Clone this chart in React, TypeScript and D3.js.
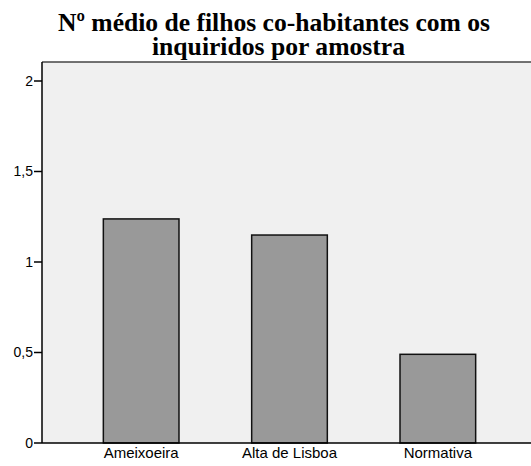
import React from "react";
import * as d3 from "d3";

const categories = ["Ameixoeira", "Alta de Lisboa", "Normativa"];
const values = [1.238, 1.149, 0.49];
const yTicks = [0, 0.5, 1, 1.5, 2];
const titleLines = ["Nº médio de filhos co-habitantes com os", "inquiridos por amostra"];

export default function App() {
  const W = 531, H = 466;
  const left = 42, right = 531, top = 62, bottom = 443;
  const y = d3.scaleLinear().domain([0, 2]).range([bottom, 81]);
  const x = d3.scaleBand().domain(categories).range([67, 512]).paddingInner(0.49).paddingOuter(0.245);
  const fmt = (v: number) => String(v).replace(".", ",");
  return (
    <div style={{ position: "absolute", left: 0, top: 0 }}>
      <svg width={W} height={H} style={{ display: "block", background: "#fff" }}>
        <text x={58} y={31} textLength={432} lengthAdjust="spacingAndGlyphs" fontFamily="'Liberation Serif', serif" fontWeight="bold" fontSize={26}>{titleLines[0]}</text>
        <text x={152} y={54.5} textLength={253} lengthAdjust="spacingAndGlyphs" fontFamily="'Liberation Serif', serif" fontWeight="bold" fontSize={26}>{titleLines[1]}</text>
        <rect x={left} y={top} width={right - left} height={bottom - top} fill="#f0f0f0" />
        <line x1={left} x2={right} y1={top} y2={top} stroke="#444" strokeWidth={1.5} />
        {categories.map((c, i) => (
          <rect key={c} x={x(c)} y={y(values[i])} width={x.bandwidth()} height={bottom - y(values[i])} fill="#999999" stroke="#111" strokeWidth={1.5} />
        ))}
        <line x1={left} x2={right} y1={bottom} y2={bottom} stroke="#000" strokeWidth={1.5} />
        <line x1={left} x2={left} y1={top} y2={bottom} stroke="#000" strokeWidth={1.5} />
        {yTicks.map((t) => (
          <g key={t}>
            <line x1={left - 8} x2={left} y1={y(t)} y2={y(t)} stroke="#000" strokeWidth={1.5} />
            <text x={left - 9} y={y(t)} dy="0.35em" textAnchor="end" fontFamily="'Liberation Sans', Arial, sans-serif" fontSize={14} fill="#000">{fmt(t)}</text>
          </g>
        ))}
        {categories.map((c) => (
          <text key={c} x={(x(c) as number) + x.bandwidth() / 2} y={458} textAnchor="middle" fontFamily="'Liberation Sans', Arial, sans-serif" fontSize={15} fill="#000">{c}</text>
        ))}
      </svg>
    </div>
  );
}
